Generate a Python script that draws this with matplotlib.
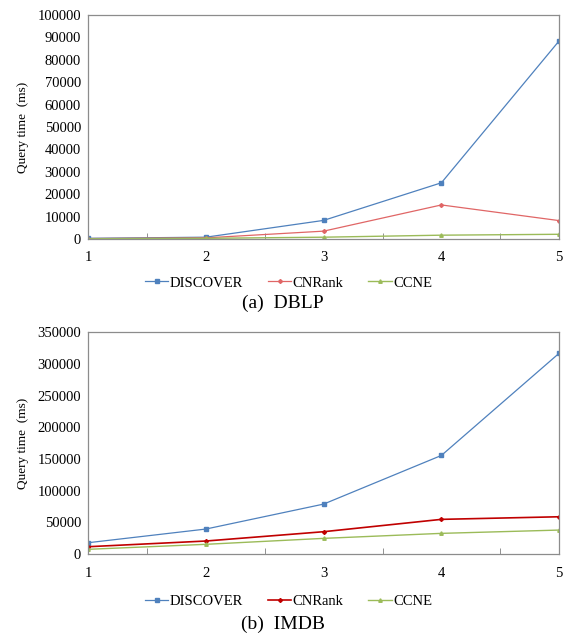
import numpy as np
import matplotlib
matplotlib.use("Agg")
import matplotlib.pyplot as plt

plt.rcParams['font.family'] = ['Liberation Serif', 'DejaVu Serif']

x = [1, 2, 3, 4, 5]

# DBLP
dblp_discover = [300, 800, 8300, 25100, 88500]
dblp_cnrank = [200, 500, 3500, 15200, 8200]
dblp_ccne = [100, 300, 800, 1700, 2100]

# IMDB
imdb_discover = [17800, 39400, 78800, 155600, 317000]
imdb_cnrank = [11500, 20500, 35200, 54700, 58800]
imdb_ccne = [7400, 15300, 24700, 32600, 37800]

fig = plt.figure(figsize=(5.66, 6.39), dpi=100)


def draw(ax, d, c, n, ymax, step, cn_color, cn_lw, legend_y, caption, cap_y):
    ax.plot(x, d, color='#4F81BD', lw=0.9, marker='s', ms=2.5, label='DISCOVER')
    ax.plot(x, c, color=cn_color, lw=cn_lw, marker='D', ms=2, label='CNRank')
    ax.plot(x, n, color='#9BBB59', lw=1.0, marker='^', ms=2.5, label='CCNE')
    ax.set_xlim(1, 5)
    ax.set_ylim(0, ymax)
    ax.set_yticks(np.arange(0, ymax + 1, step))
    ax.set_xticks(x)
    ax.set_xticks([1.5, 2.5, 3.5, 4.5], minor=True)
    ax.tick_params(axis='x', which='major', length=0, labelsize=10.5, pad=9)
    ax.tick_params(axis='x', which='minor', direction='in', length=4, color='#808080')
    ax.tick_params(axis='y', length=0, labelsize=10.5, pad=5)
    for s in ax.spines.values():
        s.set_color('#8c8c8c')
        s.set_linewidth(0.9)
    ax.set_ylabel('Query time  (ms)', fontsize=9.5, labelpad=6)
    ax.legend(loc='center', bbox_to_anchor=(0.51, legend_y), ncol=3, frameon=False,
              fontsize=10.5, handlelength=1.6, handletextpad=0.1, columnspacing=1.7,
              bbox_transform=fig.transFigure)
    fig.text(0.5, cap_y, caption, ha='center', va='center', fontsize=14)


ax1 = fig.add_axes([0.1555, 0.626, 0.8325, 0.3505])
draw(ax1, dblp_discover, dblp_cnrank, dblp_ccne, 100000, 10000, '#E06666', 0.9,
     1 - 283 / 639, '(a)  DBLP', 1 - 303 / 639)

ax2 = fig.add_axes([0.1555, 0.133, 0.8325, 0.347])
draw(ax2, imdb_discover, imdb_cnrank, imdb_ccne, 350000, 50000, '#C00000', 1.2,
     1 - 601 / 639, '(b)  IMDB', 1 - 624 / 639)

fig.savefig('out.png', dpi=100)
